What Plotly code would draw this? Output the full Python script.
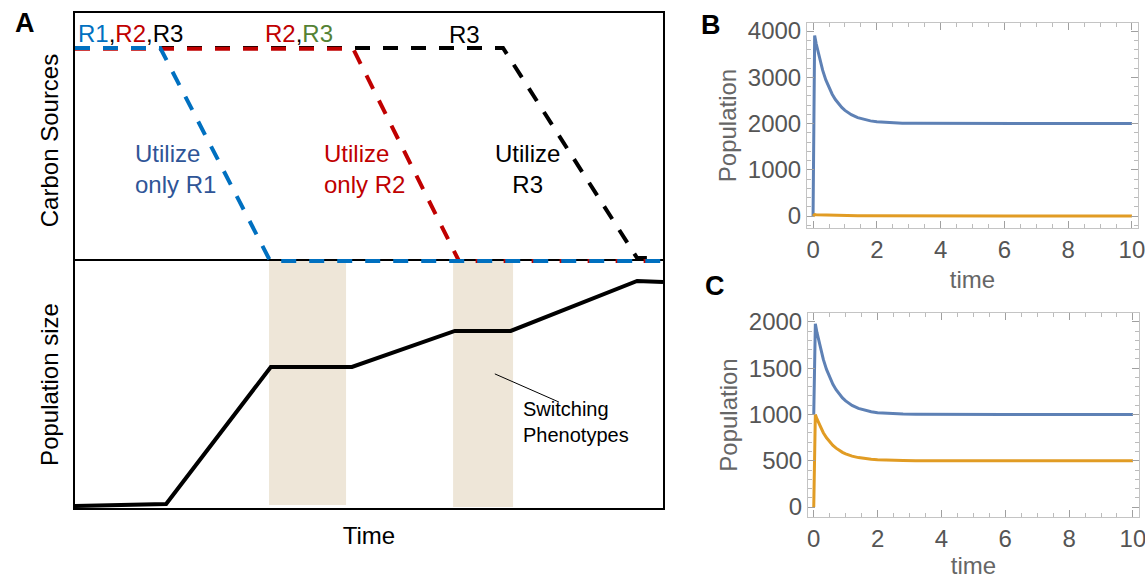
import plotly.graph_objects as go

# ---------------- Panel A data (schematic units 0-100) ----------------
carbon_x_R1 = [0, 14.5, 33.2, 100]
carbon_y_R1 = [85.9, 85.9, 0, 0]
carbon_x_R2 = [0, 47.3, 65.3, 100]
carbon_y_R2 = [85.6, 85.6, 0, 0]
carbon_x_R3 = [0, 72.8, 95.6, 98.1]
carbon_y_R3 = [85.9, 85.9, 1.2, 1.2]

pop_x = [0, 15.5, 33.3, 47.1, 64.6, 74.1, 95.6, 100]
pop_y = [0.8, 1.6, 57.1, 57.1, 71.7, 71.7, 91.9, 91.5]

switch_start = [33.0, 64.3]
switch_end = [46.1, 74.5]
switch_bottom = [1.2, 0.4]

# ---------------- Panels B & C data ----------------
t_vals = [0, 0.05, 0.1, 0.2, 0.3, 0.4, 0.5, 0.6, 0.7, 0.8, 0.9, 1.0, 1.2, 1.4,
          1.6, 1.8, 2.0, 2.4, 2.8, 3.2, 4, 5, 6, 8, 10]
B_blue = [0, 3900, 3719, 3408, 3153, 2944, 2773, 2633, 2518, 2424, 2347, 2284,
          2190, 2128, 2086, 2057, 2038, 2017, 2008, 2003, 2001, 2000, 2000, 2000, 2000]
B_orange = [0, 30, 28, 25, 22, 20, 18, 16, 14, 12, 10, 9, 7, 5, 4, 3, 2, 1,
            0, 0, 0, 0, 0, 0, 0]
C_blue = [1000, 1980, 1887, 1726, 1595, 1487, 1399, 1326, 1268, 1218, 1179, 1147,
          1098, 1066, 1044, 1029, 1020, 1009, 1004, 1002, 1000, 1000, 1000, 1000, 1000]
C_orange = [0, 1000, 952, 870, 803, 748, 704, 666, 636, 611, 591, 575, 550, 534,
            522, 515, 510, 504, 502, 501, 500, 500, 500, 500, 500]

W, H = 1145, 579
FONT = "Liberation Sans, Arial, sans-serif"
BLUE = "#0070C0"
RED = "#C00000"
GREEN = "#548235"
DKBLUE = "#2F5597"
M_BLUE = "#5E81B5"
M_ORANGE = "#E19C24"


def px_x(p):
    return p / W


def px_y(p):
    return 1 - p / H


fig = go.Figure()

# population (subplot x/y)
fig.add_trace(go.Scatter(x=pop_x, y=pop_y, mode="lines",
                         line=dict(color="black", width=4), xaxis="x", yaxis="y",
                         hoverinfo="skip"))

# carbon sources (subplot x2/y2), drawn after so it overlays the divider
dash = "15px,13px"
fig.add_trace(go.Scatter(x=carbon_x_R3, y=carbon_y_R3, mode="lines",
                         line=dict(color="black", width=4, dash=dash), xaxis="x2", yaxis="y2"))
fig.add_trace(go.Scatter(x=carbon_x_R2, y=carbon_y_R2, mode="lines",
                         line=dict(color=RED, width=4, dash=dash), xaxis="x2", yaxis="y2"))
fig.add_trace(go.Scatter(x=carbon_x_R1, y=carbon_y_R1, mode="lines",
                         line=dict(color=BLUE, width=4, dash=dash), xaxis="x2", yaxis="y2"))

# panel B
fig.add_trace(go.Scatter(x=t_vals, y=B_blue, mode="lines", line=dict(color=M_BLUE, width=3),
                         xaxis="x3", yaxis="y3"))
fig.add_trace(go.Scatter(x=t_vals, y=B_orange, mode="lines", line=dict(color=M_ORANGE, width=3),
                         xaxis="x3", yaxis="y3"))
# panel C
fig.add_trace(go.Scatter(x=t_vals, y=C_blue, mode="lines", line=dict(color=M_BLUE, width=3),
                         xaxis="x4", yaxis="y4"))
fig.add_trace(go.Scatter(x=t_vals, y=C_orange, mode="lines", line=dict(color=M_ORANGE, width=3),
                         xaxis="x4", yaxis="y4"))

shapes = []
for s, e, b in zip(switch_start, switch_end, switch_bottom):
    shapes.append(dict(type="rect", xref="x", yref="y", x0=s, x1=e, y0=b, y1=100,
                       fillcolor="#EEE6D8", line=dict(width=0), layer="below"))
# leader line of "Switching Phenotypes"
shapes.append(dict(type="line", xref="x", yref="y", x0=71.4, y0=54.3, x1=82.3, y1=42.9,
                   line=dict(color="black", width=1)))

A_xdom = [px_x(75), px_x(663)]
axA = dict(showgrid=False, zeroline=False, showticklabels=False, ticks="", automargin=False)

mstyle_common = dict(showgrid=False, zeroline=False, showline=True, mirror="ticks",
                     linecolor="#C4C4C4", linewidth=1, ticks="inside", ticklen=7,
                     tickcolor="#A0A0A0", tickfont=dict(family=FONT, size=24, color="#555555"),
                     automargin=False, ticklabeloverflow="allow")

fig.update_layout(
    width=W, height=H, margin=dict(l=0, r=0, t=0, b=0),
    paper_bgcolor="white", plot_bgcolor="rgba(0,0,0,0)", showlegend=False,
    font=dict(family=FONT),
    shapes=shapes,
    xaxis=dict(axA, domain=A_xdom, range=[0, 100], showline=True, mirror=True,
               linecolor="black", linewidth=1.5,
               title=dict(text="Time", font=dict(size=24, color="black"), standoff=18)),
    yaxis=dict(axA, domain=[px_y(508), px_y(261)], range=[0, 100], showline=True, mirror=True,
               linecolor="black", linewidth=1.5,
               title=dict(text="Population size", font=dict(size=24, color="black"), standoff=8)),
    xaxis2=dict(axA, domain=A_xdom, range=[0, 100], anchor="y2", side="top",
                showline=True, linecolor="black", linewidth=1.5),
    yaxis2=dict(axA, domain=[px_y(268), px_y(13)], range=[-2.82, 100], anchor="x2",
                showline=True, mirror=True, linecolor="black", linewidth=1.5,
                title=dict(text="Carbon Sources", font=dict(size=24, color="black"), standoff=8)),
    xaxis3=dict(mstyle_common, domain=[px_x(807), px_x(1138)], range=[-0.19, 10.19], anchor="y3",
                tickvals=[0, 2, 4, 6, 8, 10],
                minor=dict(ticks="inside", ticklen=4, dtick=0.5, tickcolor="#BBBBBB", showgrid=False),
                title=dict(text="time", font=dict(size=24, color="#666666"), standoff=9)),
    yaxis3=dict(mstyle_common, domain=[px_y(228), px_y(23)], range=[-259, 4173], anchor="x3",
                tickvals=[0, 1000, 2000, 3000, 4000],
                minor=dict(ticks="inside", ticklen=4, dtick=200, tickcolor="#BBBBBB", showgrid=False),
                title=dict(text="Population", font=dict(size=24, color="#666666"), standoff=4)),
    xaxis4=dict(mstyle_common, domain=[px_x(808), px_x(1139)], range=[-0.18, 10.19], anchor="y4",
                tickvals=[0, 2, 4, 6, 8, 10],
                minor=dict(ticks="inside", ticklen=4, dtick=0.5, tickcolor="#BBBBBB", showgrid=False),
                title=dict(text="time", font=dict(size=24, color="#666666"), standoff=9)),
    yaxis4=dict(mstyle_common, domain=[px_y(517), px_y(313)], range=[-108, 2097], anchor="x4",
                tickvals=[0, 500, 1000, 1500, 2000],
                minor=dict(ticks="inside", ticklen=4, dtick=100, tickcolor="#BBBBBB", showgrid=False),
                title=dict(text="Population", font=dict(size=24, color="#666666"), standoff=4)),
)

ann = []
plab = dict(xref="paper", yref="paper", showarrow=False, xanchor="center", yanchor="middle",
            font=dict(size=27, color="black"))
ann.append(dict(plab, text="<b>A</b>", x=px_x(25), y=px_y(23)))
ann.append(dict(plab, text="<b>B</b>", x=px_x(711), y=px_y(25)))
ann.append(dict(plab, text="<b>C</b>", x=px_x(715), y=px_y(286)))

txt = dict(xref="x2", yref="y2", showarrow=False, xanchor="left", yanchor="middle")
ann.append(dict(txt, x=0.1, y=91.8,
                text=f'<span style="color:{BLUE}">R1</span>,<span style="color:{RED}">R2</span>,R3',
                font=dict(size=24, color="black")))
ann.append(dict(txt, x=31.9, y=91.8,
                text=f'<span style="color:{RED}">R2</span>,<span style="color:{GREEN}">R3</span>',
                font=dict(size=24, color="black")))
ann.append(dict(txt, x=63.2, y=91.2, text="R3", font=dict(size=24, color="black")))
ann.append(dict(txt, x=9.8, y=37.1, text="Utilize<br>only R1", align="left",
                font=dict(size=24, color=DKBLUE)))
ann.append(dict(txt, x=42.0, y=37.1, text="Utilize<br>only R2", align="left",
                font=dict(size=24, color=RED)))
ann.append(dict(xref="x2", yref="y2", showarrow=False, xanchor="center", yanchor="middle",
                x=77.0, y=37.1, text="Utilize<br>R3", align="center",
                font=dict(size=24, color="black")))
ann.append(dict(xref="x", yref="y", showarrow=False, xanchor="left", yanchor="middle",
                x=75.9, y=35.0, text="Switching<br>Phenotypes", align="left",
                font=dict(size=20, color="black")))

fig.update_layout(annotations=ann)

fig.write_html("out.html",
               config={"displayModeBar": False},
               post_script="document.body.style.margin='0px';document.body.style.overflow='hidden';")
